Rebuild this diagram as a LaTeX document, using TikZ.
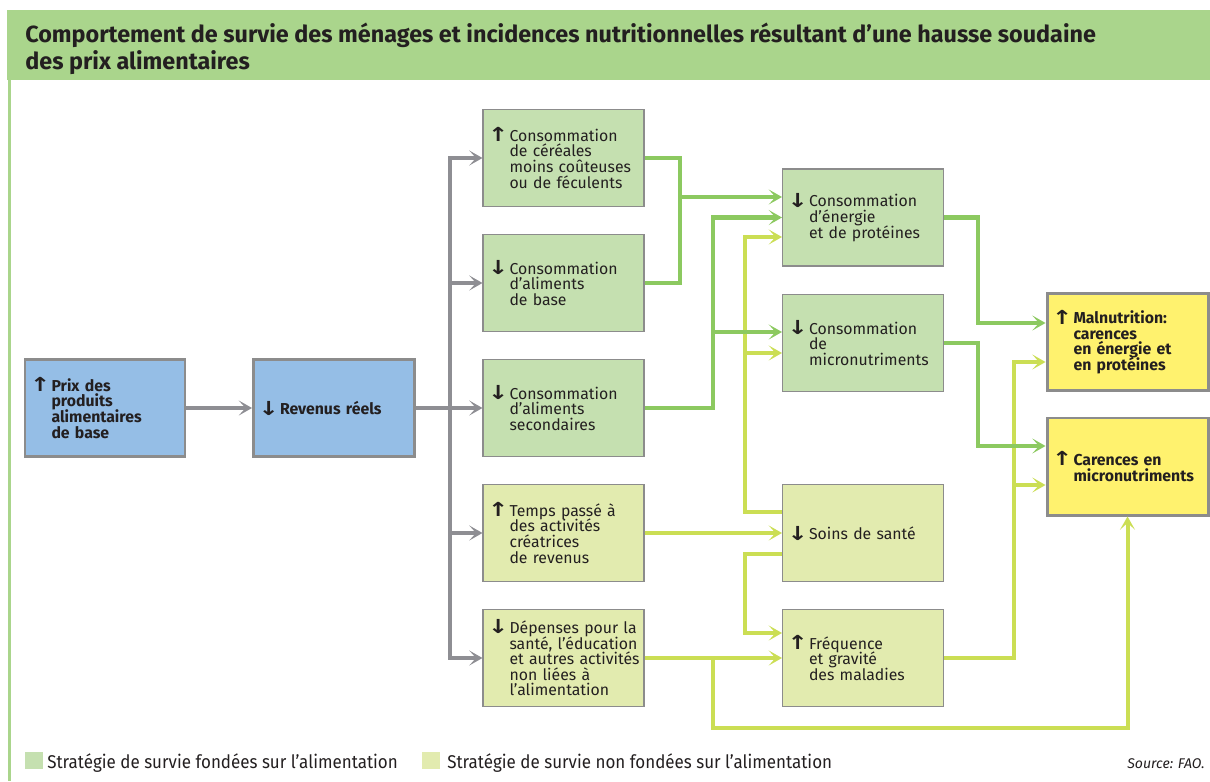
\documentclass[tikz,border=0pt]{standalone}
\usepackage{fontspec}
\setmainfont{Fira Sans}
\newfontfamily\arrowfont{DejaVu Sans}
\usetikzlibrary{arrows.meta,positioning}

\definecolor{bandgreen}{RGB}{170,213,140}
\definecolor{boxgray}{RGB}{140,140,140}
\definecolor{linkgray}{RGB}{142,142,147}
\definecolor{foodfill}{RGB}{197,224,176}
\definecolor{otherfill}{RGB}{226,235,175}
\definecolor{pricefill}{RGB}{149,190,230}
\definecolor{resultfill}{RGB}{255,242,110}
\definecolor{foodline}{RGB}{140,201,96}
\definecolor{otherline}{RGB}{203,222,84}
\definecolor{textdark}{RGB}{35,31,32}

\newcommand{\hausse}{\makebox[0.43cm][l]{\raisebox{-0.3pt}{\scalebox{1.25}[1]{\fontsize{11}{11}\arrowfont\bfseries ↑}}}}
\newcommand{\baisse}{\makebox[0.43cm][l]{\raisebox{-0.3pt}{\scalebox{1.25}[1]{\fontsize{11}{11}\arrowfont\bfseries ↓}}}}
\newcommand{\boxtext}[2]{#1\parbox[t]{2.9cm}{\raggedright\lineskiplimit=-4pt #2}}

\tikzset{
	box/.style={draw=boxgray, line width=0.6pt, minimum height=1.94cm, text width=3.02cm,
		inner xsep=0.1cm, inner ysep=0pt, align=left, text=textdark,
		font=\fontsize{9}{8.9}\selectfont},
	foodbox/.style={box, fill=foodfill},
	otherbox/.style={box, fill=otherfill},
	pricebox/.style={box, fill=pricefill, line width=1.7pt, font=\fontsize{9}{8.9}\selectfont\bfseries},
	resultbox/.style={box, fill=resultfill, line width=1.7pt, font=\fontsize{9}{8.9}\selectfont\bfseries},
	chevron/.tip={Stealth[length=7.5pt, width=8.5pt, inset=3.8pt]},
	graylink/.style={draw=linkgray, line width=2.7pt, -chevron},
	foodlink/.style={draw=foodline, line width=2.3pt, -chevron},
	foodwire/.style={draw=foodline, line width=2.3pt},
	otherlink/.style={draw=otherline, line width=2.3pt, -chevron},
	legend/.style={inner sep=0pt, text=textdark, font=\fontsize{10.5}{12}\selectfont}
}

\begin{document}
\begin{tikzpicture}
	\useasboundingbox (0,0) rectangle (24.2,-15.62);
	\fill[bandgreen] (0.14,-0.2) rectangle (24.2,-1.6);
	\draw[bandgreen, line width=1.2pt] (0.19,-1.6) -- (0.19,-15.62);
	\node[anchor=north west, inner sep=0pt, align=left, text=textdark,
		font=\fontsize{13.3}{14.9}\selectfont\bfseries] (titre) at (0.5,-0.46)
		{Comportement de survie des ménages et incidences nutritionnelles résultant d’une hausse soudaine\\des prix alimentaires};

	\node[pricebox, text width=3.0cm] (prix) at (2.10,-8.16) {\boxtext{\hausse}{Prix des\\produits\\alimentaires\\de base}};
	\node[pricebox] (revenus) at (6.68,-8.16) {\boxtext{\baisse}{Revenus réels}};

	\node[foodbox] (cereales) at (11.27,-3.16) {\boxtext{\hausse}{Consommation\\de céréales\\moins coûteuses\\ou de féculents}};
	\node[foodbox] (base) at (11.27,-5.66) {\boxtext{\baisse}{Consommation\\d’aliments\\de base}};
	\node[foodbox] (second) at (11.27,-8.16) {\boxtext{\baisse}{Consommation\\d’aliments\\secondaires}};
	\node[otherbox] (temps) at (11.27,-10.66) {\boxtext{\hausse}{Temps passé à\\des activités\\créatrices\\de revenus}};
	\node[otherbox] (depenses) at (11.27,-13.16) {\boxtext{\baisse}{Dépenses pour la\\santé, l’éducation\\et autres activités\\non liées à\\l’alimentation}};

	\node[foodbox] (energie) at (17.26,-4.35) {\boxtext{\baisse}{Consommation\\d’énergie\\et de protéines}};
	\node[foodbox] (micro) at (17.26,-6.86) {\boxtext{\baisse}{Consommation\\de\\micronutriments}};
	\node[otherbox] (soins) at (17.26,-10.66) {\boxtext{\baisse}{Soins de santé}};
	\node[otherbox] (freq) at (17.26,-13.16) {\boxtext{\hausse}{Fréquence\\et gravité\\des maladies}};

	\node[resultbox] (malnut) at (22.55,-6.84) {\boxtext{\hausse}{Malnutrition:\\carences\\en énergie et\\en protéines}};
	\node[resultbox] (carences) at (22.55,-9.33) {\boxtext{\hausse}{Carences en\\micronutriments}};

	\draw[graylink] (prix.east) -- (revenus.west);
	\draw[graylink] (revenus.east) -- (second.west);
	\foreach \n in {cereales,base,temps,depenses}
		\draw[graylink] (revenus.east) -- ++(0.68,0) |- (\n.west);

	\draw[otherlink] ([yshift=0.42cm]soins.west) -- ++(-0.74,0) |- ([yshift=-0.39cm]energie.west);
	\draw[otherlink] ([yshift=0.42cm]soins.west) -- ++(-0.74,0) |- ([yshift=-0.2cm]micro.west);
	\draw[otherlink] (temps.east) -- (soins.west);
	\draw[otherlink] ([yshift=-0.42cm]soins.west) -- ++(-0.74,0) |- ([yshift=0.5cm]freq.west);
	\draw[otherlink] (depenses.east) -- (freq.west);
	\draw[otherlink] (depenses.east) -- ++(1.36,0) -- ++(0,-1.4) -| (carences.south);
	\draw[otherlink] (freq.east) -- ++(1.4,0) |- ([yshift=-0.4cm]malnut.west);
	\draw[otherlink] (freq.east) -- ++(1.4,0) |- ([yshift=-0.37cm]carences.west);

	\draw[foodlink] (cereales.east) -- ++(0.7,0) |- ([yshift=0.41cm]energie.west);
	\draw[foodwire] (base.east) -- ++(0.7,0) |- (cereales.east);
	\draw[foodlink] (second.east) -- ++(1.36,0) |- (energie.west);
	\draw[foodlink] (second.east) -- ++(1.36,0) |- ([yshift=0.22cm]micro.west);
	\draw[foodlink] (energie.east) -- ++(0.68,0) |- ([yshift=0.38cm]malnut.west);
	\draw[foodlink] (micro.east) -- ++(0.68,0) |- ([yshift=0.41cm]carences.west);

	\fill[foodfill] (0.5,-15.04) rectangle (0.86,-15.38);
	\node[legend, anchor=base west] (legfood) at (0.94,-15.36) {\scalebox{0.92}[1]{Stratégie de survie fondées sur l’alimentation}};
	\fill[otherfill] (8.44,-15.04) rectangle (8.80,-15.38);
	\node[legend, anchor=base west] (legother) at (8.94,-15.36) {\scalebox{0.92}[1]{Stratégie de survie non fondées sur l’alimentation}};
	\node[legend, anchor=base east, font=\fontsize{8}{10}\selectfont\itshape] (source) at (24.1,-15.36) {Source: FAO.};
\end{tikzpicture}
\end{document}
